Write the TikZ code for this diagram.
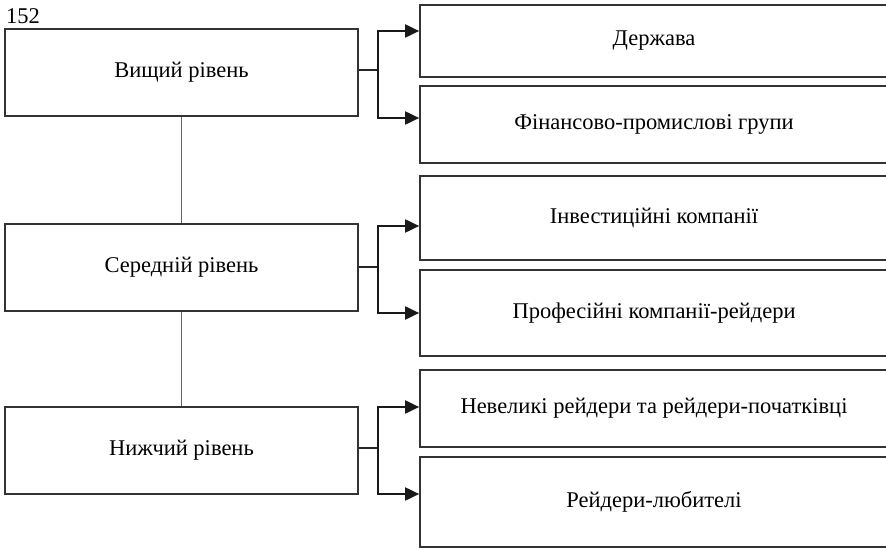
\documentclass[tikz,border=0pt]{standalone}
\usepackage{fontspec}
\setmainfont{Liberation Serif}
\usetikzlibrary{arrows.meta}
\begin{document}
\begin{tikzpicture}[x=1pt,y=-1pt,
  font=\fontsize{22.5}{27}\selectfont,
  level/.style={draw=black!80,line width=1.7pt,minimum width=353pt,minimum height=87pt,inner sep=0pt},
  actor/.style={draw=black!80,line width=1.7pt,minimum width=468pt,inner sep=0pt},
  branch/.style={draw=black!85,line width=1.6pt},
  feed/.style={draw=black!90,line width=1.9pt,-{Triangle[length=14pt,width=13pt]}},
  tie/.style={draw=black!60,line width=1.4pt}]
\useasboundingbox (0,0) rectangle (886,548);
\clip (0,0) rectangle (886,548);

% page number
\node[anchor=south west,inner sep=0pt] (page) at (6,24) {152};

% levels
\node[level] (L1) at (181.5,72.5) {Вищий рівень};
\node[level] (L2) at (181.5,267.5) {Середній рівень};
\node[level] (L3) at (181.5,450.5) {Нижчий рівень};

% actors (right border runs off the edge)
\node[actor,minimum height=72pt] (R1) at (654,41)    {Держава};
\node[actor,minimum height=77pt] (R2) at (654,124.5) {Фінансово-промислові групи};
\node[actor,minimum height=84pt] (R3) at (654,218)   {Інвестиційні компанії};
\node[actor,minimum height=86pt] (R4) at (654,313)   {Професійні компанії-рейдери};
\node[actor,minimum height=77pt] (R5) at (654,408.5) {Невеликі рейдери та рейдери-початківці};
\node[actor,minimum height=90pt] (R6) at (654,502)   {Рейдери-любителі};

% vertical ties between levels
\draw[tie] (L1.south) -- (L2.north);
\draw[tie] (L2.south) -- (L3.north);

% branch points
\coordinate (b1) at (378,70);
\coordinate (b2) at (378,267);
\coordinate (b3) at (378,448);
\coordinate (t1) at (378,31);   \coordinate (u1) at (378,118);
\coordinate (t2) at (378,226);  \coordinate (u2) at (378,313);
\coordinate (t3) at (378,407);  \coordinate (u3) at (378,494);

\draw[branch] (L1.east |- b1) -- (b1);
\draw[branch] (L2.east |- b2) -- (b2);
\draw[branch] (L3.east |- b3) -- (b3);

\draw[feed] (b1) -- (t1) -- (R1.west |- t1);
\draw[feed] (b1) -- (u1) -- (R2.west |- u1);
\draw[feed] (b2) -- (t2) -- (R3.west |- t2);
\draw[feed] (b2) -- (u2) -- (R4.west |- u2);
\draw[feed] (b3) -- (t3) -- (R5.west |- t3);
\draw[feed] (b3) -- (u3) -- (R6.west |- u3);
\end{tikzpicture}
\end{document}
